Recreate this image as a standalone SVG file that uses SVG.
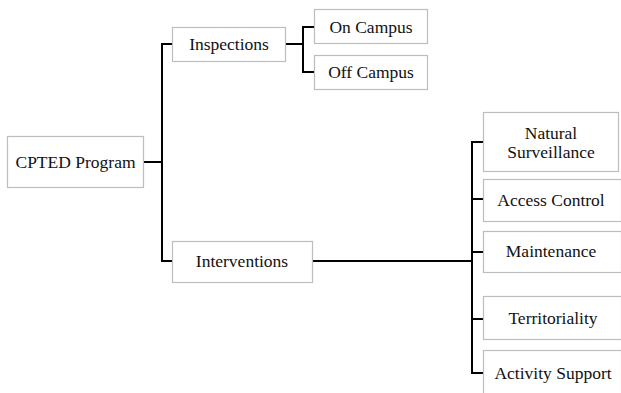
<svg xmlns="http://www.w3.org/2000/svg" width="621" height="393" viewBox="0 0 621 393">
<style>
.box{fill:#fff;stroke:#bdbdbd;stroke-width:1.2}
.t{font-family:"Liberation Serif","Times New Roman",serif;font-size:17.5px;fill:#111;text-anchor:middle}
.c{fill:none;stroke:#000;stroke-width:2}
</style>
<rect width="621" height="393" fill="#fff"/>
<g id="connectors">
<path class="c" d="M143 162H162M172 44H162V261H172"/>
<path class="c" d="M285 44H303M314 27H303V72H314"/>
<path class="c" d="M312 261H472M483 142H472V373H483M472 199H483M472 252H483M472 319H483"/>
</g>
<g id="n-cpted"><rect class="box" x="7.5" y="136.5" width="136" height="51"/><text class="t" x="75.5" y="168">CPTED Program</text></g>
<g id="n-insp"><rect class="box" x="172.5" y="27.5" width="113" height="34"/><text class="t" x="229" y="50">Inspections</text></g>
<g id="n-on"><rect class="box" x="314.5" y="9.5" width="113" height="34"/><text class="t" x="371" y="33">On Campus</text></g>
<g id="n-off"><rect class="box" x="314.5" y="55.5" width="113" height="34"/><text class="t" x="371" y="78">Off Campus</text></g>
<g id="n-int"><rect class="box" x="172.5" y="241.5" width="140" height="41"/><text class="t" x="242" y="267">Interventions</text></g>
<g id="n-ns"><rect class="box" x="483.5" y="112.5" width="135" height="59"/><text class="t" x="551" y="139">Natural</text><text class="t" x="551" y="158">Surveillance</text></g>
<g id="n-ac"><rect class="box" x="483.5" y="179.5" width="138" height="42"/><text class="t" x="551" y="206">Access Control</text></g>
<g id="n-mt"><rect class="box" x="483.5" y="231.5" width="138" height="41"/><text class="t" x="551" y="257">Maintenance</text></g>
<g id="n-tr"><rect class="box" x="483.5" y="296.5" width="138" height="43"/><text class="t" x="553" y="324">Territoriality</text></g>
<g id="n-as"><rect class="box" x="483.5" y="350.5" width="138" height="50"/><text class="t" x="553" y="379">Activity Support</text></g>
</svg>
